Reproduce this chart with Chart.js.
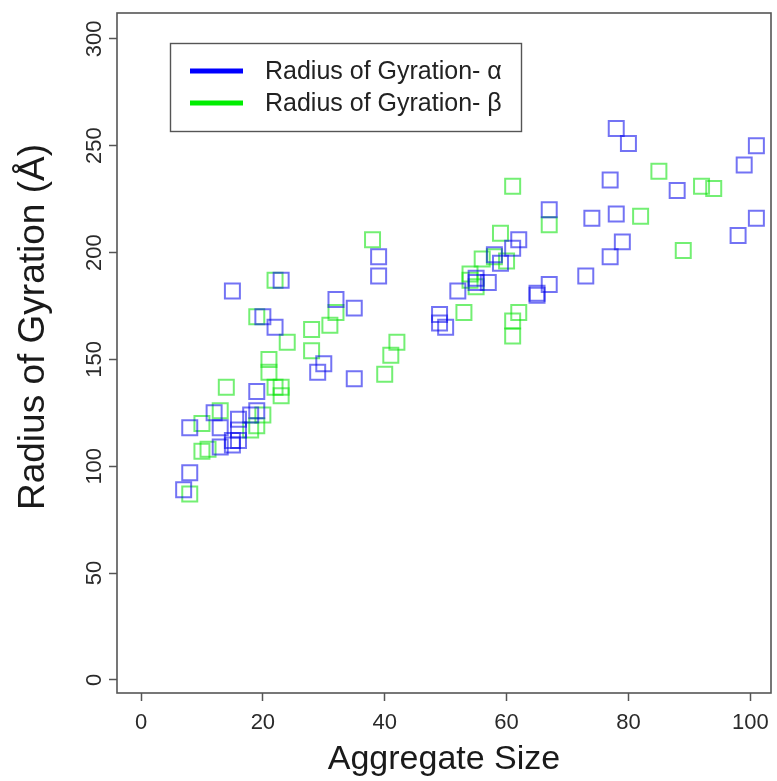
<!DOCTYPE html>
<html>
<head>
<meta charset="utf-8">
<script src="https://cdn.jsdelivr.net/npm/chart.js@4.4.0/dist/chart.umd.min.js"></script>
<style>
  html, body { margin: 0; padding: 0; background: #fff; overflow: hidden; }
  #wrap { width: 777px; height: 781px; }
  canvas { display: block; }
</style>
</head>
<body>
<div id="wrap"><canvas id="rgChart" width="777" height="781"></canvas></div>
<script>
// Values (aggregate size, radius of gyration in Å)
const alphaSize = [7, 8, 8, 12, 13, 13, 15, 15, 16, 16, 16, 18, 19, 19, 15, 20, 22, 23, 29, 30,
  32, 35, 35, 39, 39, 49, 49, 50, 52, 55, 55, 57, 58, 59, 61, 62, 65, 65, 67, 67,
  73, 74, 77, 77, 78, 78, 79, 80, 88, 98, 99, 101, 101];
const alphaRg = [89, 97, 118, 125, 118, 109, 112, 110, 122, 117, 112, 124, 135, 126, 182, 170, 165, 187, 144, 148,
  178, 174, 141, 198, 189, 171, 167, 165, 182, 186, 188, 186, 199, 195, 202, 206, 181, 180, 185, 220,
  189, 216, 234, 198, 258, 218, 205, 251, 229, 208, 241, 250, 216];

const betaSize = [8, 10, 11, 10, 13, 14, 18, 19, 20, 19, 21, 21, 22, 22, 23, 23, 24, 28, 28, 31,
  32, 38, 40, 41, 42, 53, 54, 54, 55, 56, 58, 59, 60, 61, 61, 61, 62, 67, 82, 85,
  89, 92, 94];
const betaRg = [87, 107, 108, 120, 126, 137, 117, 119, 124, 170, 150, 144, 137, 187, 133, 137, 158, 164, 154, 166,
  172, 206, 143, 152, 158, 172, 190, 187, 184, 197, 198, 209, 196, 231, 168, 161, 172, 213, 217, 238,
  201, 231, 230];

const xTicks = [0, 20, 40, 60, 80, 100];
const yTicks = [0, 50, 100, 150, 200, 250, 300];

const seriesLabels = ['Radius of Gyration- \u03b1', 'Radius of Gyration- \u03b2'];
const yTitle = 'Radius of Gyration (\u00c5)';
const lineColors = ['#0000ff', '#00ee00'];
const markColors = ['rgba(0, 0, 235, 0.55)', 'rgba(0, 225, 0, 0.55)'];

const toPoints = (xs, ys) => xs.map((x, i) => ({ x: x, y: ys[i] }));
const FONT = '"Liberation Sans", Arial, sans-serif';

// R-style frame round the plotting region
const frameBox = {
  id: 'frameBox',
  afterDraw(chart) {
    const { ctx, chartArea: a } = chart;
    ctx.save();
    ctx.strokeStyle = '#555';
    ctx.lineWidth = 1.6;
    ctx.strokeRect(a.left, a.top, a.right - a.left, a.bottom - a.top);
    ctx.restore();
  }
};

// y title sits a bit above the middle of the plot in the original
const sideTitle = {
  id: 'sideTitle',
  afterDraw(chart) {
    const ctx = chart.ctx;
    ctx.save();
    ctx.translate(44, 327);
    ctx.rotate(-Math.PI / 2);
    ctx.font = '37px ' + FONT;
    ctx.fillStyle = '#1a1a1a';
    ctx.textAlign = 'center';
    ctx.textBaseline = 'alphabetic';
    ctx.fillText(yTitle, 0, 0);
    ctx.restore();
  }
};

// Legend box inside the plot, lines instead of markers
const insetLegend = {
  id: 'insetLegend',
  afterDraw(chart) {
    const ctx = chart.ctx;
    ctx.save();
    ctx.strokeStyle = '#555';
    ctx.lineWidth = 1.4;
    ctx.strokeRect(170.5, 43.5, 351, 88);
    ctx.font = '25px ' + FONT;
    ctx.textBaseline = 'middle';
    ctx.fillStyle = '#222';
    chart.data.datasets.forEach((ds, i) => {
      const y = 71 + i * 32;
      ctx.strokeStyle = lineColors[i];
      ctx.lineWidth = 5;
      ctx.beginPath();
      ctx.moveTo(190, y);
      ctx.lineTo(243, y);
      ctx.stroke();
      ctx.fillText(ds.label, 265, y + 1);
    });
    ctx.restore();
  }
};

const ctx = document.getElementById('rgChart').getContext('2d');
const rgChart = new Chart(ctx, {
  type: 'scatter',
  data: {
    datasets: [
      {
        label: seriesLabels[0],
        data: toPoints(alphaSize, alphaRg),
        pointStyle: 'rect',
        pointRadius: 10.6,
        pointHoverRadius: 10.6,
        borderWidth: 2,
        borderColor: markColors[0],
        backgroundColor: 'rgba(0,0,0,0)'
      },
      {
        label: seriesLabels[1],
        data: toPoints(betaSize, betaRg),
        pointStyle: 'rect',
        pointRadius: 10.6,
        pointHoverRadius: 10.6,
        borderWidth: 2,
        borderColor: markColors[1],
        backgroundColor: 'rgba(0,0,0,0)'
      }
    ]
  },
  options: {
    responsive: false,
    animation: false,
    layout: { autoPadding: false, padding: { top: 13, right: 6, bottom: 0, left: 0 } },
    plugins: {
      legend: { display: false },
      tooltip: { enabled: false }
    },
    scales: {
      x: {
        type: 'linear',
        min: -3.94,
        max: 103.4,
        afterBuildTicks: axis => { axis.ticks = xTicks.map(v => ({ value: v })); },
        afterFit: axis => { axis.height = 88; axis.paddingLeft = 0; axis.paddingRight = 0; },
        border: { display: false },
        grid: { drawOnChartArea: false, drawTicks: true, tickLength: 8, tickWidth: 1.5, tickColor: '#555' },
        ticks: {
          padding: 9,
          maxRotation: 0,
          color: '#2a2a2a',
          font: { family: FONT, size: 22 }
        },
        title: {
          display: true,
          text: 'Aggregate Size',
          color: '#1a1a1a',
          padding: { top: 0, bottom: 1 },
          font: { family: FONT, size: 34 }
        }
      },
      y: {
        type: 'linear',
        min: -6.1,
        max: 312.1,
        afterBuildTicks: axis => { axis.ticks = yTicks.map(v => ({ value: v })); },
        afterFit: axis => { axis.width = 117; axis.paddingTop = 0; axis.paddingBottom = 0; },
        border: { display: false },
        grid: { drawOnChartArea: false, drawTicks: true, tickLength: 8, tickWidth: 1.5, tickColor: '#555' },
        ticks: {
          minRotation: 90,
          maxRotation: 90,
          crossAlign: 'center',
          padding: -4,
          color: '#2a2a2a',
          font: { family: FONT, size: 22 }
        },
        title: { display: false }
      }
    }
  },
  plugins: [frameBox, sideTitle, insetLegend]
});
</script>
</body>
</html>
